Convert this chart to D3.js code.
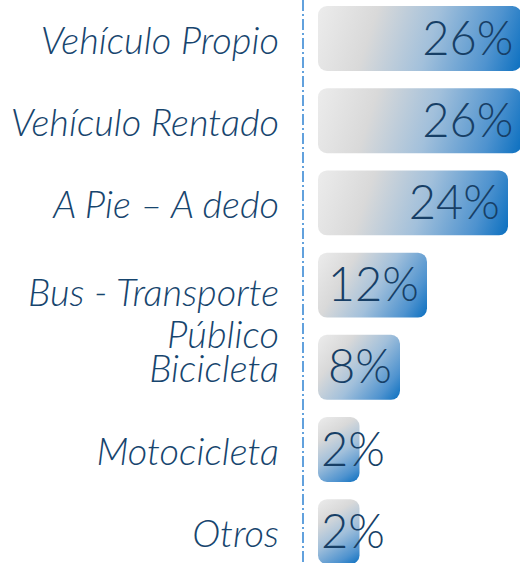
<!DOCTYPE html>
<html>
<head>
<meta charset="utf-8">
<script src="https://cdn.jsdelivr.net/npm/d3@7"></script>
<style>
body { margin: 0; background: #fff; }
</style>
</head>
<body>
<script>
// data
var categories = ["Vehículo Propio", "Vehículo Rentado", "A Pie – A dedo", "Bus - Transporte\nPúblico", "Bicicleta", "Motocicleta", "Otros"];
var values = [26, 26, 24, 12, 8, 2, 2];
var valueLabels = ["26%", "26%", "24%", "12%", "8%", "2%", "2%"];

var width = 520;
var height = 563;

var svg = d3.select("body")
    .append("svg")
    .attr("width", width)
    .attr("height", height);

var defs = svg.append("defs");

var y = d3.scaleBand()
    .domain(categories)
    .range([-2.6, 572.8])
    .paddingInner(0.21)
    .paddingOuter(0.105);

var barLeft = 318;
// bars keep a minimum width, so the range does not start at the axis
var x = d3.scaleLinear()
    .domain([0, 24])
    .range([barLeft + 28, barLeft + 190]);

// one gradient per bar along its diagonal: grey top-left, blue bottom-right
categories.forEach(function(c, i) {
    var g = defs.append("linearGradient")
        .attr("id", "grad" + i)
        .attr("gradientUnits", "userSpaceOnUse")
        .attr("x1", barLeft).attr("y1", y(c))
        .attr("x2", x(values[i])).attr("y2", y(c) + y.bandwidth());
    g.append("stop").attr("offset", "0%").attr("stop-color", "#ececec");
    g.append("stop").attr("offset", "27%").attr("stop-color", "#d9d9d9");
    g.append("stop").attr("offset", "55%").attr("stop-color", "#a2c0db");
    g.append("stop").attr("offset", "83%").attr("stop-color", "#4f93cf");
    g.append("stop").attr("offset", "100%").attr("stop-color", "#0a6fc0");
});

// dash-dot axis line
svg.append("line")
    .attr("x1", 303).attr("x2", 303)
    .attr("y1", 0).attr("y2", height)
    .attr("stroke", "#2f83d2")
    .attr("stroke-width", 1.5)
    .attr("stroke-dasharray", "11,3,2,3");

var rows = svg.selectAll(".row")
    .data(categories)
    .enter().append("g")
    .attr("class", "row");

rows.append("rect")
    .attr("x", barLeft)
    .attr("y", function(d) { return y(d); })
    .attr("width", function(d, i) { return x(values[i]) - barLeft; })
    .attr("height", y.bandwidth())
    .attr("rx", 9)
    .attr("fill", function(d, i) { return "url(#grad" + i + ")"; });

rows.append("text")
    .attr("x", function(d, i) { return Math.max(x(values[i]) - 8, barLeft + 67); })
    .attr("y", function(d) { return y(d) + y.bandwidth() / 2 + 16; })
    .attr("text-anchor", "end")
    .style("font-family", "Lato, sans-serif")
    .style("font-weight", 300)
    .style("font-size", "47px")
    .style("fill", "#173f66")
    .text(function(d, i) { return valueLabels[i]; });

// category labels, italic, right aligned before the line
var labels = rows.append("text")
    .attr("text-anchor", "end")
    .style("font-family", "Lato, sans-serif")
    .style("font-weight", 300)
    .style("font-style", "italic")
    .style("font-size", "38px")
    .style("fill", "#17456e");

labels.selectAll("tspan")
    .data(function(d) {
        var parts = d.split("\n");
        return parts.map(function(t) { return {t: t, c: d, n: parts.length}; });
    })
    .enter().append("tspan")
    .attr("x", 279)
    .attr("y", function(d, j) {
        return y(d.c) + y.bandwidth() / 2 + 15 + (d.n > 1 ? 6 : 0) + j * 42;
    })
    .text(function(d) { return d.t; });
</script>
</body>
</html>
